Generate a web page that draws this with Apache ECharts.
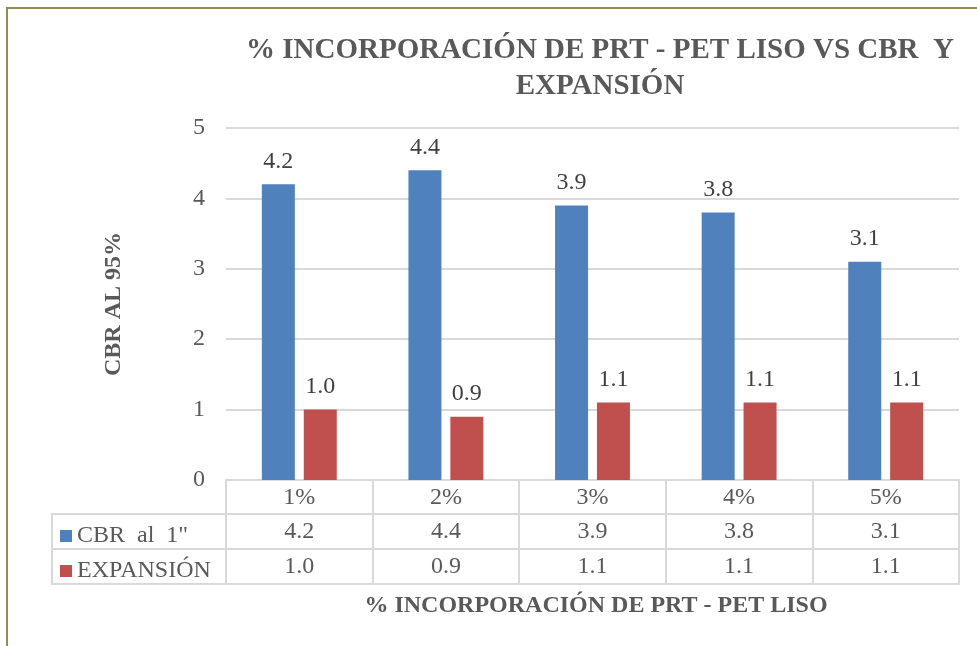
<!DOCTYPE html>
<html>
<head>
<meta charset="utf-8">
<script src="https://cdn.jsdelivr.net/npm/echarts@6/dist/echarts.min.js"></script>
<style>
  html, body { margin: 0; padding: 0; background: #fff; }
  #chart { width: 977px; height: 646px; }
</style>
</head>
<body>
<div id="chart"></div>
<script>
  var categorias = ['1%', '2%', '3%', '4%', '5%'];
  var cbr = [4.2, 4.4, 3.9, 3.8, 3.1];
  var expansion = [1.0, 0.9, 1.1, 1.1, 1.1];
  var yTicks = [0, 1, 2, 3, 4, 5];

  var fuente = 'Liberation Serif';
  var gris = '#595959';
  var linea = '#D9D9D9';

  var myChart = echarts.init(document.getElementById('chart'));

  // filas de la tabla de datos bajo el eje
  function filaTabla(offset, valores) {
    return {
      type: 'category',
      gridIndex: 0,
      position: 'bottom',
      offset: offset,
      data: categorias,
      axisLine: { show: true, lineStyle: { color: linea, width: 2 } },
      axisTick: { show: false },
      axisLabel: {
        show: !!valores,
        margin: 6,
        fontFamily: fuente,
        fontSize: 24,
        color: gris,
        formatter: function (v, i) { return valores ? valores[i].toFixed(1) : ''; }
      }
    };
  }

  option = {
    animation: false,
    backgroundColor: '#fff',
    title: [
      {
        text: '% INCORPORACIÓN DE PRT - PET LISO VS CBR  Y\nEXPANSIÓN',
        left: 595,
        top: 28,
        textAlign: 'center',
        textStyle: { fontFamily: fuente, fontWeight: 'bold', fontSize: 29, color: gris, lineHeight: 36 }
      },
      {
        text: '% INCORPORACIÓN DE PRT - PET LISO',
        left: 591,
        top: 589,
        textAlign: 'center',
        textStyle: { fontFamily: fuente, fontWeight: 'bold', fontSize: 24, color: gris }
      }
    ],
    legend: {
      orient: 'vertical',
      left: 55,
      top: 519,
      itemGap: 11,
      itemWidth: 12,
      itemHeight: 12,
      icon: 'rect',
      textStyle: { fontFamily: fuente, fontSize: 24, color: gris },
      data: ['CBR  al  1"', 'EXPANSIÓN']
    },
    grid: { left: 226, right: 18, top: 128, bottom: 166, containLabel: false },
    xAxis: [
      {
        type: 'category',
        data: categorias,
        axisLine: { show: true, lineStyle: { color: linea, width: 2 } },
        axisTick: { show: true, length: 104, lineStyle: { color: linea, width: 2 } },
        axisLabel: { margin: 6, fontFamily: fuente, fontSize: 24, color: gris }
      },
      filaTabla(34, cbr),
      filaTabla(69, expansion),
      filaTabla(104, null)
    ],
    yAxis: {
      type: 'value',
      min: yTicks[0],
      max: yTicks[yTicks.length - 1],
      interval: 1,
      name: 'CBR AL 95%',
      nameLocation: 'middle',
      nameGap: 100,
      nameRotate: 90,
      nameTextStyle: { fontFamily: fuente, fontWeight: 'bold', fontSize: 24, color: gris },
      axisLine: { show: false },
      axisTick: { show: false },
      axisLabel: { margin: 21, fontFamily: fuente, fontSize: 24, color: gris },
      splitLine: { lineStyle: { color: linea, width: 2 } }
    },
    graphic: [
      {
        type: 'rect',
        shape: { x: 7, y: 8, width: 1100, height: 800 },
        style: { fill: 'none', stroke: '#948A54', lineWidth: 2 },
        silent: true
      },
      {
        type: 'rect',
        shape: { x: 52, y: 514, width: 174, height: 70 },
        style: { fill: 'none', stroke: linea, lineWidth: 2 },
        silent: true
      },
      {
        type: 'line',
        shape: { x1: 52, y1: 549, x2: 226, y2: 549 },
        style: { stroke: linea, lineWidth: 2 },
        silent: true
      }
    ],
    series: [
      {
        name: 'CBR  al  1"',
        type: 'bar',
        data: cbr,
        barWidth: 33,
        barGap: '27%',
        itemStyle: { color: '#4F81BD' },
        label: {
          show: true,
          position: 'top',
          distance: 11,
          fontFamily: fuente,
          fontSize: 24,
          color: '#404040',
          formatter: function (p) { return p.value.toFixed(1); }
        }
      },
      {
        name: 'EXPANSIÓN',
        type: 'bar',
        data: expansion,
        barWidth: 33,
        itemStyle: { color: '#C0504D' },
        label: {
          show: true,
          position: 'top',
          distance: 11,
          fontFamily: fuente,
          fontSize: 24,
          color: '#404040',
          formatter: function (p) { return p.value.toFixed(1); }
        }
      }
    ]
  };

  myChart.setOption(option);
</script>
</body>
</html>
